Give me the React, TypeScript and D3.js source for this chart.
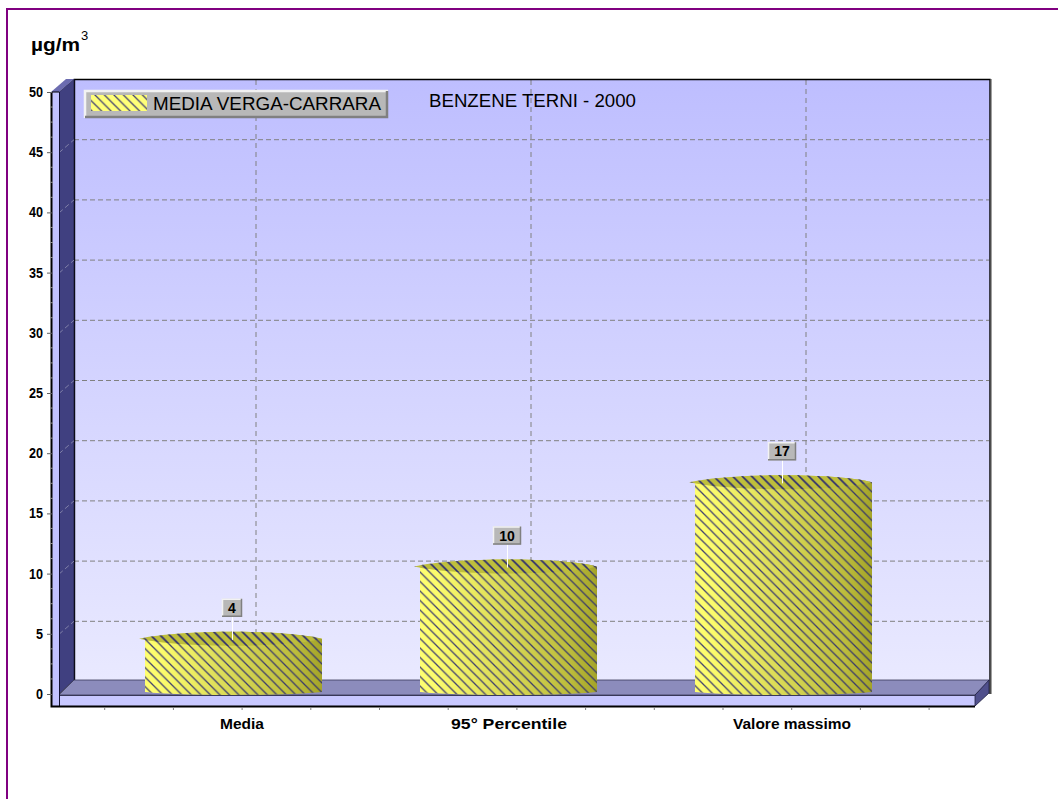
import React from "react";
import * as d3 from "d3";

const categories = ["Media", "95° Percentile", "Valore massimo"];
const values = [4, 10, 17];
const labelX = [242, 509, 792];
const labelWidths = [44, 116, 118];
const seriesName = "MEDIA VERGA-CARRARA";
const title = "BENZENE TERNI - 2000";
const yTicks = [0, 5, 10, 15, 20, 25, 30, 35, 40, 45, 50];
const yMinor = [1.25, 2.5, 3.75];

const DX = 15;
const DY = 14;
const y = d3.scaleLinear().domain([0, 50]).range([694, 92]);
const xBand = d3.scalePoint<string>().domain(categories).range([233, 783]);
const xLeft = 59;
const xRight = 975;
const minorX = d3.range(1, 14).map((i) => 36 + i * 68.7);
const gridX = [256, 531, 806];

function barPath(cx: number, rx: number, top: number, bottom: number, ry: number) {
  const p = d3.path();
  p.moveTo(cx - rx, top);
  p.bezierCurveTo(cx - rx * 0.6, top - ry * 1.33, cx + rx * 0.6, top - ry * 1.33, cx + rx, top);
  p.lineTo(cx + rx, bottom - 3);
  p.bezierCurveTo(cx + rx * 0.6, bottom + 1, cx - rx * 0.6, bottom + 1, cx - rx, bottom - 3);
  p.closePath();
  return p.toString();
}

function topPath(cx: number, rx: number, top: number, ry: number) {
  const p = d3.path();
  p.moveTo(cx - rx - 6, top);
  p.bezierCurveTo(cx - rx * 0.6, top - ry * 1.33, cx + rx * 0.6, top - ry * 1.33, cx + rx, top);
  p.bezierCurveTo(cx + rx * 0.6, top + ry * 1.33, cx - rx * 0.6, top + ry * 1.33, cx - rx - 6, top);
  p.closePath();
  return p.toString();
}

const sans = "'Liberation Sans', Arial, sans-serif";

export default function App() {
  return (
    <svg
      width={1058}
      height={799}
      style={{ position: "absolute", left: 0, top: 0, background: "#fff" }}
      fontFamily={sans}
    >
      <defs>
        <linearGradient id="wall" x1="0" y1="0" x2="0" y2="1">
          <stop offset="0" stopColor="#bebeff" />
          <stop offset="1" stopColor="#e9e9ff" />
        </linearGradient>
        <linearGradient id="cyl" x1="0" y1="0" x2="1" y2="0">
          <stop offset="0" stopColor="#ffff70" />
          <stop offset="0.1" stopColor="#fbfb6c" />
          <stop offset="0.45" stopColor="#dcdc58" />
          <stop offset="0.85" stopColor="#bcbc3c" />
          <stop offset="1" stopColor="#a4a428" />
        </linearGradient>
        <pattern id="hatch" width="9.5" height="9.5" patternUnits="userSpaceOnUse">
          <path d="M-1,-1L10.5,10.5M-1,8.5L1,10.5M8.5,-1L10.5,1" stroke="#2c2c70" strokeWidth="1.3" strokeOpacity="0.9" />
        </pattern>
      </defs>

      {/* page border */}
      <path d="M7,799V9H1058" fill="none" stroke="#800080" strokeWidth="2" />

      {/* unit */}
      <text x={31} y={51} fontSize={19} fontWeight="bold" fill="#000" textLength={49} lengthAdjust="spacingAndGlyphs">µg/m</text>
      <text x={81} y={40} fontSize={13} fill="#000">3</text>

      {/* back wall */}
      <rect x={xLeft + DX} y={y(50) - DY + 1} width={xRight - xLeft} height={y(0) - y(50)} fill="url(#wall)" />

      {/* grid */}
      {yTicks.filter((t) => t > 0 && t < 50).map((t) => (
        <line key={t} x1={xLeft + DX} x2={xRight + DX - 1} y1={y(t) - DY + 1.5} y2={y(t) - DY + 1.5} stroke="#808080" strokeWidth={1} strokeDasharray="5 3" />
      ))}
      {gridX.map((gx) => (
        <line key={gx} x1={gx} x2={gx} y1={80} y2={680} stroke="#808080" strokeDasharray="5 4" />
      ))}
      <path d={`M${xLeft + DX + 0.5},680V79.5H${xRight + DX}V694`} fill="none" stroke="#000" strokeWidth={1.4} />
      <line x1={xRight + DX + 1.5} x2={xRight + DX + 1.5} y1={79} y2={694} stroke="#a0a0a0" />

      {/* left side wall */}
      <polygon
        points={`${xLeft},${y(50)} ${xLeft + DX},${y(50) - DY + 1} ${xLeft + DX},${y(0) - DY} ${xLeft},${y(0)}`}
        fill="#404080"
        stroke="#202040"
        strokeWidth={0.8}
      />
      <polygon points={`51,${y(50)} 59,${y(50)} 74,79 66,79`} fill="#6c6cb0" />
      {yTicks.filter((t) => t > 0 && t < 50).map((t) => (
        <line key={t} x1={xLeft} x2={xLeft + DX} y1={y(t) + 0.5} y2={y(t) - DY + 1.5} stroke="#8080a8" strokeDasharray="5 3" />
      ))}

      {/* floor */}
      <polygon
        points={`${xLeft},${y(0) + 1} ${xLeft + DX},${y(0) - DY} ${xRight + DX},${y(0) - DY} ${xRight},${y(0) + 1}`}
        fill="#8c8cbc"
        stroke="#383858"
        strokeWidth={0.8}
      />

      {/* front slab */}
      <rect x={xLeft} y={y(0) + 1} width={xRight - xLeft} height={11} fill="#c8c8ff" />
      <polygon points={`${xRight},${y(0) + 1} ${xRight + DX - 1},${y(0) - DY} ${xRight + DX - 1},${y(0) - 1} ${xRight},706`} fill="#50508c" stroke="#202040" strokeWidth={0.8} />
      <line x1={xLeft} x2={xRight} y1={y(0) + 1.5} y2={y(0) + 1.5} stroke="#383858" />

      {/* left strip */}
      <rect x={52} y={y(50)} width={7} height={614} fill="#c2c2ff" />

      {/* axes */}
      <path d={`M59.5,${y(50)}V706`} fill="none" stroke="#101030" strokeWidth={1} />
      <path d={`M51.5,${y(50)}V706.5H${xRight}`} fill="none" stroke="#000" strokeWidth={2} />
      <line x1={52} x2={59} y1={y(50)} y2={y(50)} stroke="#000" />
      {yTicks.map((t) => (
        <g key={t}>
          <line x1={47} x2={52} y1={y(t) + 0.5} y2={y(t) + 0.5} stroke="#606060" />
          <text x={43} y={y(t) + 5} textAnchor="end" fontSize={15} fontWeight="bold" fill="#000" textLength={t < 10 ? 7 : 14} lengthAdjust="spacingAndGlyphs">{t}</text>
        </g>
      ))}
      {yTicks.slice(0, -1).flatMap((t) => yMinor.map((m) => (
        <line key={`${t}-${m}`} x1={50} x2={53} y1={y(t + m)} y2={y(t + m)} stroke="#909090" />
      )))}
      {minorX.map((mx) => (
        <line key={mx} x1={mx} x2={mx} y1={707} y2={710} stroke="#808080" />
      ))}

      {/* category labels */}
      {categories.map((c, i) => (
        <text key={c} x={labelX[i]} y={729} textAnchor="middle" fontSize={15} fontWeight="bold" fill="#000" textLength={labelWidths[i]} lengthAdjust="spacingAndGlyphs">{c}</text>
      ))}

      {/* cylinders */}
      {categories.map((c, i) => {
        const cx = (xBand(c) as number) + 0.5;
        const rx = 88.5;
        const top = y(values[i]) - 7;
        return (
          <g key={c}>
            <path d={barPath(cx, rx, top, y(0) + 1, 7)} fill="url(#cyl)" />
            <path d={topPath(cx, rx, top, 7)} fill="#bebe3c" />
            <path d={barPath(cx, rx, top, y(0) + 1, 7)} fill="url(#hatch)" />
            <path d={topPath(cx, rx, top, 7)} fill="url(#hatch)" />
          </g>
        );
      })}

      {/* value labels */}
      {categories.map((c, i) => {
        const cx = (xBand(c) as number) - 1;
        const top = y(values[i]) - 8;
        const w = values[i] < 10 ? 20 : 28;
        const by = top - 39;
        return (
          <g key={c + "v"}>
            <line x1={cx + 0.5} x2={cx + 0.5} y1={by + 17} y2={top + 2} stroke="#fff" />
            <rect x={cx - w / 2} y={by} width={w} height={18} fill="#b8b8b8" />
            <path d={`M${cx - w / 2 + 0.5},${by + 18}V${by + 0.5}H${cx + w / 2}`} fill="none" stroke="#f2f2f2" strokeWidth={1.5} />
            <path d={`M${cx - w / 2},${by + 17.5}H${cx + w / 2 - 0.5}V${by}`} fill="none" stroke="#808080" strokeWidth={1.5} />
            <text x={cx} y={by + 14} textAnchor="middle" fontSize={14} fontWeight="bold" fill="#000">{values[i]}</text>
          </g>
        );
      })}

      {/* legend */}
      <rect x={84} y={90} width={304} height={28} fill="#b8b8b8" />
      <path d="M85,118V91H388" fill="none" stroke="#f2f2f2" strokeWidth={2.5} />
      <path d="M85,117H387V91" fill="none" stroke="#808080" strokeWidth={2.5} />
      <rect x={91} y={95} width={56} height={16} fill="#ffff78" />
      <rect x={91} y={95} width={56} height={16} fill="url(#hatch)" />
      <text x={153} y={110} fill="#000" fontSize={19} textLength={228} lengthAdjust="spacingAndGlyphs">{seriesName}</text>

      {/* title */}
      <text x={429} y={107} fill="#000" fontSize={18} textLength={207} lengthAdjust="spacingAndGlyphs">{title}</text>
    </svg>
  );
}
